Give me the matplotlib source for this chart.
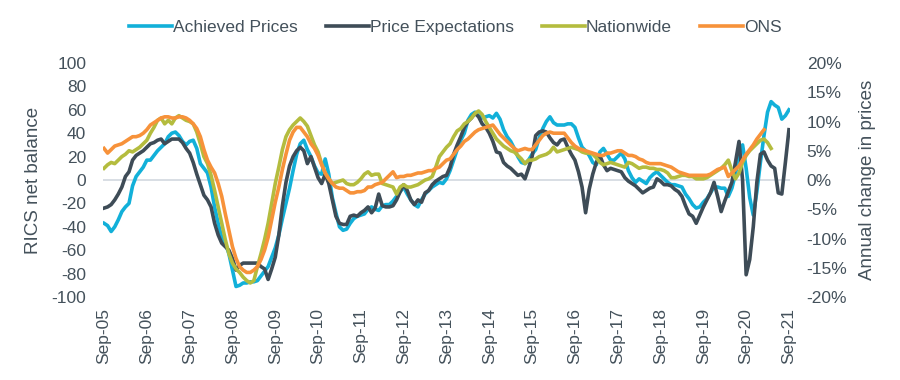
import matplotlib
matplotlib.use('Agg')
import matplotlib.pyplot as plt
from matplotlib.ticker import FuncFormatter

plt.rcParams['font.family'] = ['Liberation Sans', 'DejaVu Sans']
plt.rcParams['axes.unicode_minus'] = False

# 月次データ (Sep-05 から) --- RICS は左軸、Nationwide/ONS は右軸 (%)
tick_labels = ['Sep-05', 'Sep-06', 'Sep-07', 'Sep-08', 'Sep-09', 'Sep-10',
               'Sep-11', 'Sep-12', 'Sep-13', 'Sep-14', 'Sep-15', 'Sep-16',
               'Sep-17', 'Sep-18', 'Sep-19', 'Sep-20', 'Sep-21']

achieved = [
    -37, -39, -44, -40, -34, -27, -23, -20, -5, 3, 7, 11,
    17, 17, 21, 25, 28, 31, 37, 40, 41, 38, 33, 30,
    33, 34, 27, 14, 10, 6, -6, -23, -37, -49, -54, -63,
    -77, -91, -90, -88, -88, -87, -87, -86, -82, -78, -74, -66,
    -58, -47, -33, -20, -7, 8, 22, 31, 34, 26, 20, 12,
    6, 5, 18, 5, -15, -28, -40, -43, -42, -37, -33, -31,
    -30, -29, -25, -23, -25, -26, -22, -21, -21, -18, -14, -10,
    -6, -12, -17, -21, -23, -17, -12, -9, -6, -4, -2, -3,
    1, 8, 17, 26, 34, 40, 51, 56, 58, 55, 53, 54,
    55, 53, 57, 52, 43, 37, 33, 27, 20, 15, 14, 17,
    22, 26, 36, 44, 50, 54, 49, 47, 47, 47, 48, 48,
    45, 36, 28, 25, 21, 15, 13, 24, 27, 22, 17, 17,
    20, 23, 18, 8, 2, -2, 1, -1, -3, 2, 5, 7,
    4, 1, -2, -4, -4, -5, -6, -12, -16, -21, -24, -23,
    -19, -16, -11, -6, -6, -7, -7, -14, -7, 5, 22, 30,
    10, -15, -30, -10, 15, 38, 58, 67, 64, 62, 52, 55, 60]

expectations = [
    -24, -23, -21, -17, -12, -6, 3, 7, 17, 21, 23, 25,
    28, 31, 32, 34, 35, 31, 33, 35, 35, 35, 32, 27,
    23, 15, 5, -4, -13, -17, -23, -37, -47, -54, -57, -60,
    -67, -77, -73, -71, -71, -71, -71, -71, -74, -76, -85, -76,
    -66, -47, -22, -2, 12, 20, 25, 28, 25, 14, 20, 11,
    2, -3, 5, -3, -17, -31, -37, -38, -38, -31, -30, -31,
    -28, -26, -23, -28, -24, -12, -22, -23, -23, -22, -17, -10,
    -4, -9, -17, -21, -17, -19, -11, -9, -4, -1, 1, 3,
    4, 11, 22, 30, 37, 45, 50, 53, 57, 54, 48, 45,
    40, 33, 24, 23, 15, 12, 10, 7, 4, 5, 1, 10,
    20, 38, 41, 42, 41, 36, 32, 30, 34, 35, 28, 22,
    17, 7, -6, -28, -8, 5, 15, 21, 13, 8, 10, 9,
    8, 7, 2, -1, -3, -5, -8, -11, -9, -7, -6, 1,
    -1, -4, -4, -5, -8, -10, -14, -22, -29, -31, -37, -30,
    -23, -17, -11, -2, -14, -27, -18, -10, -2, 15, 33, 0,
    -81, -68, -40, -2, 22, 24, 17, 12, 10, -11, -12, 15, 43]

nationwide = [
    2.0, 2.6, 3.0, 2.8, 3.4, 4.0, 4.4, 5.0, 4.8, 5.2, 5.6, 6.2,
    6.8, 8.0, 9.0, 10.2, 10.6, 9.6, 10.2, 9.6, 10.6, 11.0, 10.6, 10.2,
    10.0, 9.6, 8.2, 6.2, 4.0, 2.8, 0.8, -1.8, -4.6, -7.4, -10.2, -12.6,
    -14.2, -15.2, -15.8, -16.6, -17.2, -17.6, -17.2, -14.8, -12.6, -10.2, -7.4, -4.0,
    -0.6, 2.2, 5.2, 7.4, 8.6, 9.4, 10.0, 10.6, 10.0, 9.2, 7.6, 6.0,
    4.8, 2.8, 1.2, 0.2, -0.6, -0.4, -0.2, 0.0, -0.6, -0.8, -0.8, -0.4,
    0.2, 1.0, 1.4, 0.8, 1.0, 1.0, -0.6, -0.8, -1.0, -1.2, -2.4, -1.2,
    -0.8, -1.2, -1.2, -1.0, -0.8, -0.4, 0.0, 0.2, 0.6, 2.2, 4.0, 4.8,
    5.6, 6.2, 7.4, 8.4, 8.8, 9.6, 10.0, 10.6, 11.4, 11.8, 11.2, 10.0,
    9.0, 8.0, 7.0, 6.4, 5.8, 5.4, 5.0, 4.8, 4.2, 3.6, 2.8, 3.4,
    3.4, 3.6, 4.0, 4.2, 4.4, 4.8, 5.6, 4.8, 5.0, 5.2, 5.4, 5.6,
    5.4, 5.2, 4.8, 4.6, 4.6, 4.4, 3.8, 3.0, 2.6, 2.8, 3.0, 2.8,
    2.6, 2.4, 2.2, 3.0, 2.8, 2.4, 2.0, 2.2, 2.2, 2.0, 2.0, 1.8,
    1.8, 1.6, 1.2, 0.4, 0.4, 0.6, 0.8, 0.8, 0.6, 0.6, 0.2, 0.2,
    0.2, 0.4, 0.8, 1.2, 1.6, 2.0, 2.6, 3.4, 1.6, 0.2, 1.2, 3.0,
    4.2, 5.0, 5.6, 6.2, 6.8, 7.0, 6.4, 5.4]

ons = [
    5.4, 4.6, 5.2, 5.8, 6.0, 6.2, 6.6, 7.0, 7.4, 7.4, 7.6, 8.0,
    8.6, 9.4, 9.8, 10.2, 10.6, 10.8, 10.8, 10.6, 10.6, 10.8, 10.8, 10.6,
    10.2, 9.6, 8.8, 7.4, 5.2, 3.4, 2.2, 1.2, -0.6, -2.8, -5.8, -8.6,
    -11.4, -13.4, -14.8, -15.4, -15.8, -15.8, -15.4, -14.8, -13.6, -12.0, -9.8, -6.8,
    -3.8, -1.2, 1.8, 4.4, 6.8, 8.2, 9.0, 9.0, 8.2, 7.4, 6.2, 5.4,
    4.2, 2.6, 1.2, 0.2, -0.6, -1.2, -1.4, -1.4, -1.8, -2.2, -2.2, -2.0,
    -2.0, -1.8, -1.2, -1.2, -0.8, -0.6, -0.4, 0.2, 0.8, 1.4, 0.4, 0.6,
    0.6, 0.8, 0.8, 1.0, 1.2, 1.2, 1.4, 1.6, 1.6, 2.0, 2.2, 2.8,
    3.4, 3.6, 4.4, 5.2, 5.8, 6.6, 7.0, 7.6, 8.2, 8.6, 8.8, 9.0,
    9.2, 9.4, 8.6, 7.8, 7.2, 6.6, 6.0, 5.4, 5.0, 5.2, 5.4, 5.2,
    5.2, 6.0, 6.8, 7.6, 8.0, 8.2, 8.0, 8.0, 8.0, 8.0, 7.2, 6.4,
    5.8, 5.4, 5.2, 5.0, 4.8, 4.6, 4.4, 4.2, 4.2, 4.6, 4.6, 4.8,
    5.0, 5.0, 4.6, 4.2, 4.2, 4.0, 3.6, 3.4, 3.0, 2.8, 2.8, 2.8,
    2.8, 2.6, 2.4, 2.2, 1.8, 1.4, 1.2, 1.0, 0.8, 0.8, 0.8, 0.8,
    0.8, 0.8, 1.0, 1.4, 1.8, 2.0, 2.2, 0.6, 1.2, 1.8, 2.4, 3.4,
    4.4, 5.2, 6.0, 7.0, 7.8, 8.6]

# 色とスタイル
text_col = '#44515b'
lw = 2.6

fig = plt.figure(figsize=(9, 3.8), dpi=100)
ax = fig.add_axes([0.1144, 0.2184, 0.7634, 0.6158])
ax2 = ax.twinx()

ax.axhline(0, color='#d5dbe2', lw=1.3, zorder=1)
l1, = ax.plot(range(len(achieved)), achieved, color='#12b0d9', lw=lw, label='Achieved Prices', zorder=2)
l2, = ax.plot(range(len(expectations)), expectations, color='#3e4c57', lw=lw, label='Price Expectations', zorder=3)
l3, = ax2.plot(range(len(nationwide)), nationwide, color='#b4bc3e', lw=lw, label='Nationwide')
l4, = ax2.plot(range(len(ons)), ons, color='#f7923a', lw=lw, label='ONS')

ax.set_xlim(-0.3, 192.3)
ax.set_ylim(-100, 100)
ax2.set_ylim(-20, 20)
ax.set_xticks(range(0, 12 * len(tick_labels), 12))
ax.set_xticklabels(tick_labels, rotation=90)
ax.set_yticks(range(-100, 101, 20))
ax2.set_yticks(range(-20, 21, 5))
ax2.yaxis.set_major_formatter(FuncFormatter(lambda v, p: '%d%%' % v))

for a in (ax, ax2):
    for s in a.spines.values():
        s.set_visible(False)
    a.tick_params(length=0, labelsize=12.5, colors=text_col)
ax.tick_params(axis='y', pad=12)
ax.tick_params(axis='x', pad=8)
ax2.tick_params(axis='y', pad=12)

ax.set_ylabel('RICS net balance', fontsize=13.5, color=text_col, labelpad=7)
ax2.set_ylabel('Annual change in prices', fontsize=13.5, color=text_col, labelpad=8)

fig.legend(handles=[l1, l2, l3, l4], loc='center', bbox_to_anchor=(0.506, 0.928),
           ncol=4, frameon=False, fontsize=12.5, handlelength=2.5, handletextpad=0.05,
           columnspacing=1.6, labelcolor=text_col)

fig.savefig('out.png', dpi=100)
